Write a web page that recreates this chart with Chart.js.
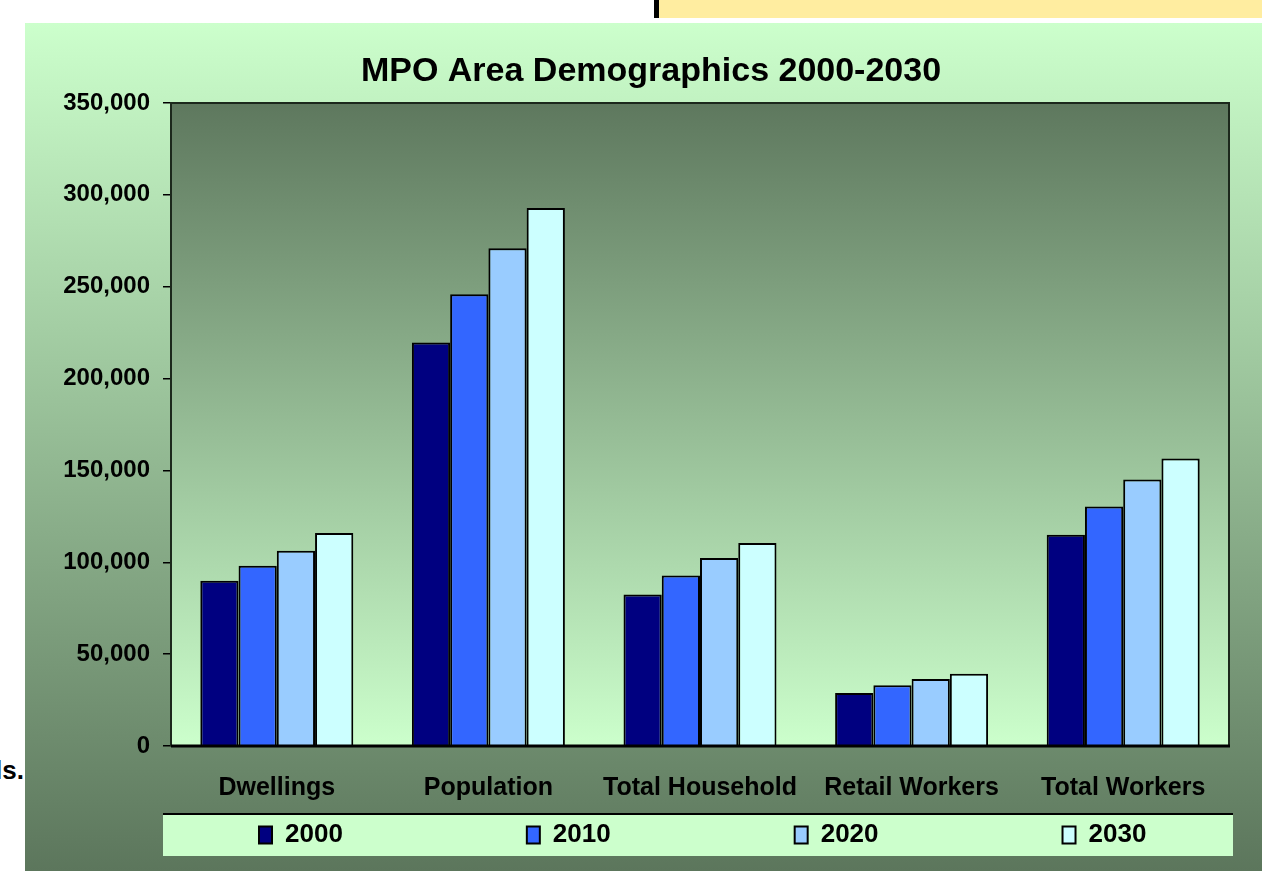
<!DOCTYPE html>
<html><head><meta charset="utf-8">
<script src="https://cdn.jsdelivr.net/npm/chart.js@4/dist/chart.umd.min.js"></script>
<style>
html,body{margin:0;padding:0;background:#fff;width:1262px;height:871px;overflow:hidden;position:relative;font-family:'Liberation Sans',Arial,sans-serif;}
#note{position:absolute;left:654px;top:0;width:608px;height:18px;background:#ffeda0;border-left:5px solid #000;box-sizing:border-box;}
#frag{position:absolute;right:1238px;top:757px;font:bold 26px 'Liberation Sans',Arial,sans-serif;line-height:26px;color:#000;white-space:nowrap;}
#wrap{position:absolute;left:25px;top:23px;width:1237px;height:848px;}
</style></head><body>
<div id="note"></div>
<div id="frag">ls.</div>
<div id="wrap"><canvas id="c" width="1237" height="848"></canvas></div>
<script>
// ---- data ----
const categories = ['Dwellings', 'Population', 'Total Household', 'Retail Workers', 'Total Workers'];
const years = ['2000', '2010', '2020', '2030'];
const values2000 = [90000, 219700, 82500, 28800, 115000];
const values2010 = [98100, 245900, 92800, 33000, 130300];
const values2020 = [106300, 271000, 102300, 36500, 145000];
const values2030 = [116000, 292800, 110500, 39300, 156500];
const yMin = 0, yMax = 350000, yStep = 50000;
const chartTitle = 'MPO Area Demographics 2000-2030';

// ---- styles ----
const seriesColors = ['#000080', '#3366ff', '#99ccff', '#ccffff'];
const seriesValues = [values2000, values2010, values2020, values2030];
const FONT = "'Liberation Sans', Arial, sans-serif";

const decor = {
  id: 'decor',
  afterLayout(chart) {
    const ca = chart.chartArea;
    const t = chart.titleBlock;
    if (t) { const cx = ca.left + 480; t.left = cx - 600; t.right = cx + 600; t.width = 1200; }
    const lg = chart.legend;
    if (lg && lg.lineWidths) {
      const pad = lg.options.labels.padding;
      const fs = lg.options.labels.font.size;
      const itemH = Math.max(fs, lg.options.labels.boxHeight || fs);
      const S = ca.left + 88;
      const R = 5000;
      lg.right = R;
      lg.left = 2 * S - pad - R + lg.lineWidths[0];
      lg.top = ca.bottom + 68 + 21 - pad - itemH / 2;
      lg.bottom = chart.height;
    }
  },
  beforeDraw(chart) {
    const {ctx, width, height, chartArea: ca} = chart;
    ctx.save();
    let g = ctx.createLinearGradient(0, 0, 0, height);
    g.addColorStop(0, '#ccffcc');
    g.addColorStop(1, '#5c765c');
    ctx.fillStyle = g;
    ctx.fillRect(0, 0, width, height);
    g = ctx.createLinearGradient(0, ca.top, 0, ca.bottom);
    g.addColorStop(0, '#5e785e');
    g.addColorStop(1, '#ccffcc');
    ctx.fillStyle = g;
    ctx.fillRect(ca.left, ca.top, ca.right - ca.left, ca.bottom - ca.top);
    const bx = ca.left - 8, bw = ca.right - ca.left + 12, by = ca.bottom + 68, bh = 42;
    ctx.fillStyle = '#ccffcc';
    ctx.fillRect(bx, by, bw, bh);
    ctx.fillStyle = '#000';
    ctx.fillRect(bx, by - 1, bw, 2);
    ctx.restore();
  },
  afterDatasetsDraw(chart) {
    const {ctx, chartArea: ca} = chart;
    ctx.save();
    ctx.strokeStyle = '#1c281c';
    ctx.lineWidth = 2;
    ctx.beginPath();
    ctx.moveTo(ca.left, ca.bottom);
    ctx.lineTo(ca.left, ca.top);
    ctx.lineTo(ca.right, ca.top);
    ctx.lineTo(ca.right, ca.bottom);
    ctx.stroke();
    ctx.strokeStyle = '#000';
    ctx.lineWidth = 3;
    ctx.beginPath();
    ctx.moveTo(ca.left, ca.bottom);
    ctx.lineTo(ca.right + 1, ca.bottom);
    ctx.stroke();
    ctx.restore();
  }
};

Chart.defaults.font.family = FONT;
Chart.defaults.font.weight = 'bold';
Chart.defaults.color = '#000';

new Chart(document.getElementById('c'), {
  type: 'bar',
  data: {
    labels: categories,
    datasets: years.map((y, i) => ({
      label: y,
      data: seriesValues[i],
      backgroundColor: seriesColors[i],
      borderColor: '#000',
      borderWidth: 2,
      categoryPercentage: 0.723,
      barPercentage: 1.0
    }))
  },
  options: {
    responsive: false,
    devicePixelRatio: 1,
    animation: false,
    layout: {padding: {left: 0, right: 33, top: 0, bottom: 15}},
    plugins: {
      title: {
        display: true,
        text: chartTitle,
        color: '#000',
        font: {size: 34, weight: 'bold', family: FONT},
        padding: {top: 28.6, bottom: 10.6}
      },
      legend: {
        display: true,
        position: 'bottom',
        maxHeight: 42,
        labels: {
          color: '#000',
          font: {size: 26, weight: 'bold', family: FONT},
          boxWidth: 13,
          boxHeight: 17,
          padding: 184
        }
      },
      tooltip: {enabled: false}
    },
    scales: {
      x: {
        grid: {display: false, drawTicks: false},
        border: {display: false},
        ticks: {font: {size: 25, weight: 'bold', family: FONT}, color: '#000', padding: 27, maxRotation: 0, autoSkip: false},
        afterFit(s) { s.height = 68; }
      },
      y: {
        min: yMin, max: yMax,
        grid: {drawOnChartArea: false, drawTicks: true, tickLength: 8, color: '#000', lineWidth: 1.5},
        border: {display: false},
        ticks: {
          stepSize: yStep,
          font: {size: 24, weight: 'bold', family: FONT},
          color: '#000',
          padding: 13,
          callback: v => Number(v).toLocaleString('en-US')
        },
        afterFit(s) { s.width = 146; }
      }
    }
  },
  plugins: [decor]
});
</script>
</body></html>
